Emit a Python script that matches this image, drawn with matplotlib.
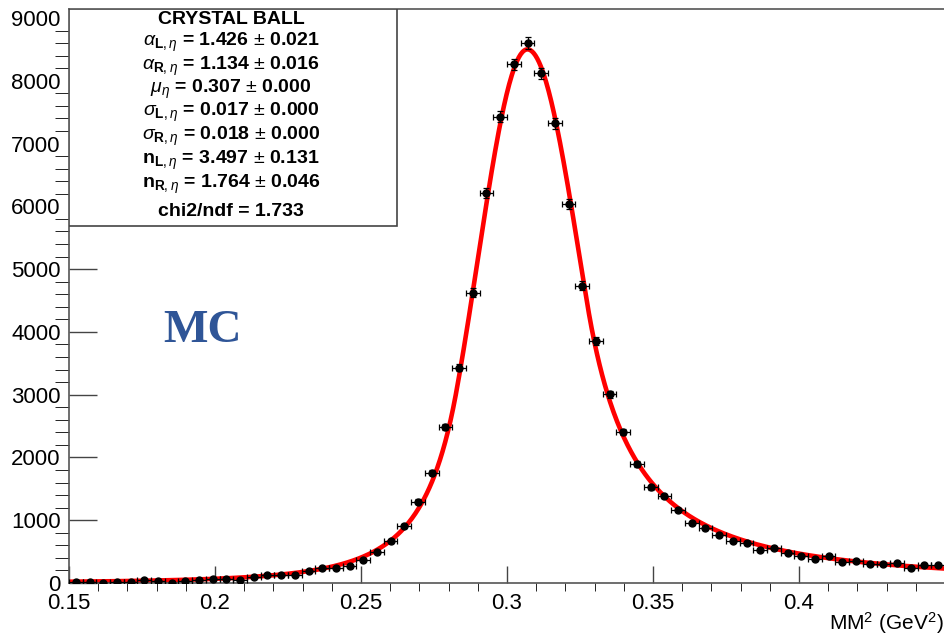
import numpy as np
import matplotlib.pyplot as plt
import matplotlib as mpl
from matplotlib.patches import Rectangle

mpl.rcParams['font.family'] = ['Liberation Sans', 'DejaVu Sans']
mpl.rcParams['mathtext.fontset'] = 'custom'
mpl.rcParams['mathtext.rm'] = 'Liberation Sans'
mpl.rcParams['mathtext.it'] = 'Liberation Sans:italic'
mpl.rcParams['mathtext.bf'] = 'Liberation Sans:bold'

# MM^2 histogram, 64 bins between 0.15 and 0.45 GeV^2
x_lo, x_hi, n_bins = 0.15, 0.45, 64
counts = [20, 10, 5, 15, 10, 40, 25, 5, 25, 55,
          70, 60, 55, 100, 125, 130, 135, 195, 240, 245,
          276, 370, 495, 675, 908, 1295, 1757, 2490, 3430, 4625,
          6217, 7428, 8262, 8606, 8119, 7322, 6032, 4736, 3855, 3006,
          2400, 1896, 1524, 1386, 1163, 951, 881, 765, 674, 637,
          520, 553, 483, 430, 380, 425, 339, 350, 303, 303,
          314, 240, 287, 287]

# double sided crystal ball fit result
alpha_L, alpha_R = 1.426, 1.134
alpha_L_err, alpha_R_err = 0.021, 0.016
mu, mu_err = 0.307, 0.000
sigma_L, sigma_R = 0.017, 0.018
sigma_L_err, sigma_R_err = 0.000, 0.000
n_L, n_R = 3.497, 1.764
n_L_err, n_R_err = 0.131, 0.046
chi2_ndf = 1.733
amplitude = 8500

xtick_vals = [0.15, 0.2, 0.25, 0.3, 0.35, 0.4]
xtick_labels = ['0.15', '0.2', '0.25', '0.3', '0.35', '0.4']
ytick_vals = [0, 1000, 2000, 3000, 4000, 5000, 6000, 7000, 8000, 9000]


def crystal_ball(x):
    t = np.where(x < mu, (x - mu) / sigma_L, (x - mu) / sigma_R)
    y = np.exp(-0.5 * t ** 2)
    left = t < -alpha_L
    A = (n_L / alpha_L) ** n_L * np.exp(-0.5 * alpha_L ** 2)
    B = n_L / alpha_L - alpha_L
    y[left] = A * (B - t[left]) ** (-n_L)
    right = t > alpha_R
    A = (n_R / alpha_R) ** n_R * np.exp(-0.5 * alpha_R ** 2)
    B = n_R / alpha_R - alpha_R
    y[right] = A * (B + t[right]) ** (-n_R)
    return amplitude * y


W, H = 945, 638
fig = plt.figure(figsize=(W / 100, H / 100), dpi=100)
ax = fig.add_axes([69 / W, 55 / H, 876 / W, 574 / H])

edges = np.linspace(x_lo, x_hi, n_bins + 1)
centers = 0.5 * (edges[:-1] + edges[1:])
y = np.array(counts, dtype=float)
bw = edges[1] - edges[0]

xf = np.linspace(x_lo, x_hi, 1000)
ax.plot(xf, crystal_ball(xf), color='#ff0000', lw=3.3, zorder=2)

ax.errorbar(centers, y, xerr=bw / 2, yerr=np.sqrt(y), fmt='o', color='black',
            ms=5, elinewidth=0.9, capsize=2.2, capthick=0.9, zorder=3)

ax.set_xlim(x_lo, x_hi)
ax.set_ylim(0, 9143)

ax.set_xticks(xtick_vals)
ax.set_xticklabels(xtick_labels)
ax.set_xticks(np.arange(0.16, 0.45, 0.01), minor=True)
ax.set_yticks(ytick_vals)
ax.set_yticks(np.arange(0, 9143, 200), minor=True)

ax.tick_params(axis='both', direction='in', colors='#444444', labelcolor='black',
               labelsize=16, width=1)
ax.tick_params(axis='x', which='major', length=12, pad=7)
ax.tick_params(axis='x', which='minor', length=6)
ax.tick_params(axis='y', which='major', length=20, pad=6)
ax.tick_params(axis='y', which='minor', length=10)

for side in ['top', 'left', 'bottom']:
    ax.spines[side].set_color('#555555')
    ax.spines[side].set_linewidth(1.2)
ax.spines['right'].set_visible(False)

ax.set_xlabel('MM$^2$ (GeV$^2$)', fontsize=15, ha='right', va='bottom')
ax.xaxis.set_label_coords(0.998, (583 - 636) / 574)

# fit statistics box
box_w = (397 - 69) / 876
box_h = (226 - 9) / 574
ax.add_patch(Rectangle((0, 1 - box_h), box_w, box_h, transform=ax.transAxes,
                       facecolor='white', edgecolor='#444444', lw=1.2, zorder=4))

stats = [
    'CRYSTAL BALL',
    r'$\alpha_{\mathbf{L},\eta}$ = %.3f $\pm$ %.3f' % (alpha_L, alpha_L_err),
    r'$\alpha_{\mathbf{R},\eta}$ = %.3f $\pm$ %.3f' % (alpha_R, alpha_R_err),
    r'$\mu_{\eta}$ = %.3f $\pm$ %.3f' % (mu, mu_err),
    r'$\sigma_{\mathbf{L},\eta}$ = %.3f $\pm$ %.3f' % (sigma_L, sigma_L_err),
    r'$\sigma_{\mathbf{R},\eta}$ = %.3f $\pm$ %.3f' % (sigma_R, sigma_R_err),
    r'$\mathbf{n}_{\mathbf{L},\eta}$ = %.3f $\pm$ %.3f' % (n_L, n_L_err),
    r'$\mathbf{n}_{\mathbf{R},\eta}$ = %.3f $\pm$ %.3f' % (n_R, n_R_err),
    'chi2/ndf = %.3f' % chi2_ndf,
]
line_py = [20, 42, 66, 89, 112, 136, 160, 184, 212]
cx = (231 - 69) / 876
for s, py in zip(stats, line_py):
    ax.text(cx, (583 - py) / 574, s, transform=ax.transAxes, ha='center',
            va='center', fontsize=14, fontweight='bold', zorder=5)

ax.text((203 - 69) / 876, (583 - 331) / 574, 'MC', transform=ax.transAxes,
        ha='center', va='center', fontsize=34, fontweight='bold',
        family='Liberation Serif', color='#2f5597')

fig.savefig('out.png', dpi=100)
